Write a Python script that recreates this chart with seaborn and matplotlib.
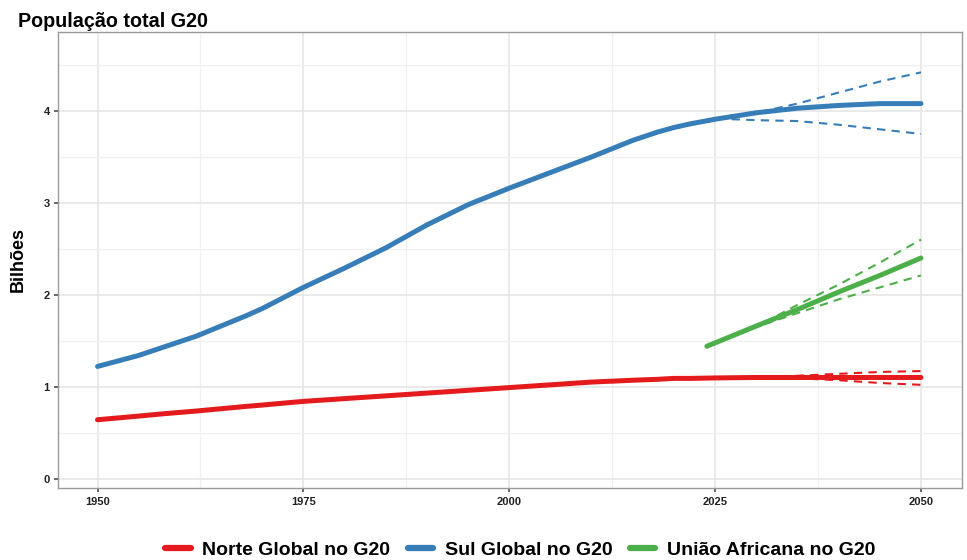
import matplotlib.pyplot as plt
import seaborn as sns
import pandas as pd
import numpy as np

sns.set_theme(style='whitegrid')
plt.rcParams['font.family'] = ['Liberation Sans', 'DejaVu Sans']

# dados (bilhões)
anos = [1950, 1955, 1958, 1960, 1962, 1965, 1968, 1970, 1975, 1980, 1985, 1990,
        1995, 2000, 2005, 2010, 2015, 2018, 2020, 2022, 2025, 2030, 2035, 2040,
        2045, 2050]
norte = [0.64, 0.68, 0.705, 0.72, 0.735, 0.76, 0.785, 0.80, 0.84, 0.87, 0.90, 0.93,
         0.96, 0.99, 1.02, 1.05, 1.07, 1.08, 1.09, 1.09, 1.095, 1.10, 1.10, 1.10,
         1.10, 1.10]
sul = [1.22, 1.34, 1.43, 1.49, 1.55, 1.66, 1.77, 1.85, 2.08, 2.29, 2.51, 2.76,
       2.98, 3.16, 3.33, 3.50, 3.68, 3.77, 3.82, 3.86, 3.91, 3.98, 4.03, 4.06,
       4.08, 4.08]
anos_ua = [2024, 2030, 2035, 2040, 2045, 2050]
ua = [1.44, 1.66, 1.84, 2.03, 2.21, 2.40]

# projeções (intervalos)
anos_sul_proj = [2027, 2030, 2035, 2040, 2045, 2050]
sul_alto = [3.92, 3.98, 4.08, 4.20, 4.32, 4.42]
sul_baixo = [3.91, 3.90, 3.89, 3.85, 3.80, 3.75]
anos_norte_proj = [2033, 2040, 2045, 2050]
norte_alto = [1.11, 1.14, 1.16, 1.17]
norte_baixo = [1.10, 1.07, 1.04, 1.02]
anos_ua_proj = [2031, 2035, 2040, 2045, 2050]
ua_alto = [1.70, 1.89, 2.11, 2.35, 2.60]
ua_baixo = [1.68, 1.80, 1.95, 2.08, 2.21]

grupos = ['Norte Global no G20', 'Sul Global no G20', 'União Africana no G20']
cores = {'Norte Global no G20': '#e41a1c', 'Sul Global no G20': '#377eb8',
         'União Africana no G20': '#4daf4a'}

df = pd.concat([
    pd.DataFrame({'ano': anos, 'pop': norte, 'grupo': grupos[0]}),
    pd.DataFrame({'ano': anos, 'pop': sul, 'grupo': grupos[1]}),
    pd.DataFrame({'ano': anos_ua, 'pop': ua, 'grupo': grupos[2]}),
])

fig = plt.figure(figsize=(9.67, 5.6), dpi=100)
ax = fig.add_axes([0.06, 0.129, 0.935, 0.814])

sns.lineplot(data=df, x='ano', y='pop', hue='grupo', palette=cores,
             linewidth=3.6, ax=ax, legend=False)

proj = [(anos_sul_proj, sul_alto, sul_baixo, grupos[1]),
        (anos_norte_proj, norte_alto, norte_baixo, grupos[0]),
        (anos_ua_proj, ua_alto, ua_baixo, grupos[2])]
for xs, alto, baixo, g in proj:
    sns.lineplot(x=xs, y=alto, color=cores[g], linewidth=1.5,
                 linestyle=(0, (4, 3)), ax=ax)
    sns.lineplot(x=xs, y=baixo, color=cores[g], linewidth=1.5,
                 linestyle=(0, (4, 3)), ax=ax)

ax.set_xlim(1945.2, 2055.0)
ax.set_ylim(-0.1, 4.86)
ax.set_xticks([1950, 1975, 2000, 2025, 2050])
ax.set_yticks([0, 1, 2, 3, 4])
ax.set_xticks([1962.5, 1987.5, 2012.5, 2037.5], minor=True)
ax.set_yticks([0.5, 1.5, 2.5, 3.5, 4.5], minor=True)
ax.grid(which='major', color='#e6e6e6', linewidth=1.2)
ax.grid(which='minor', color='#f0f0f0', linewidth=0.9)
ax.set_facecolor('white')
for s in ax.spines.values():
    s.set_color('#9a9a9a')
    s.set_linewidth(1.0)
ax.tick_params(which='major', length=3, color='#555555', labelsize=8,
               pad=3, left=True, bottom=True, labelcolor='#222222')
ax.tick_params(which='minor', length=0)
for lbl in ax.get_xticklabels() + ax.get_yticklabels():
    lbl.set_fontweight('bold')
ax.xaxis.set_tick_params(pad=4)
ax.set_xlabel('')
ax.set_ylabel('Bilhões', fontsize=13, fontweight='bold', labelpad=12,
              color='black')

fig.text(0.019, 0.952, 'População total G20', fontsize=14.2, fontweight='bold',
         ha='left', va='baseline', color='black')

handles = [plt.Line2D([], [], color=cores[g], linewidth=4.5) for g in grupos]
fig.legend(handles, grupos, loc='lower center', bbox_to_anchor=(0.538, -0.03),
           ncol=3, frameon=False, handlelength=1.3, columnspacing=0.9,
           handletextpad=0.6, labelcolor='black',
           prop={'weight': 'bold', 'size': 14})

fig.savefig('out.png', dpi=100)
